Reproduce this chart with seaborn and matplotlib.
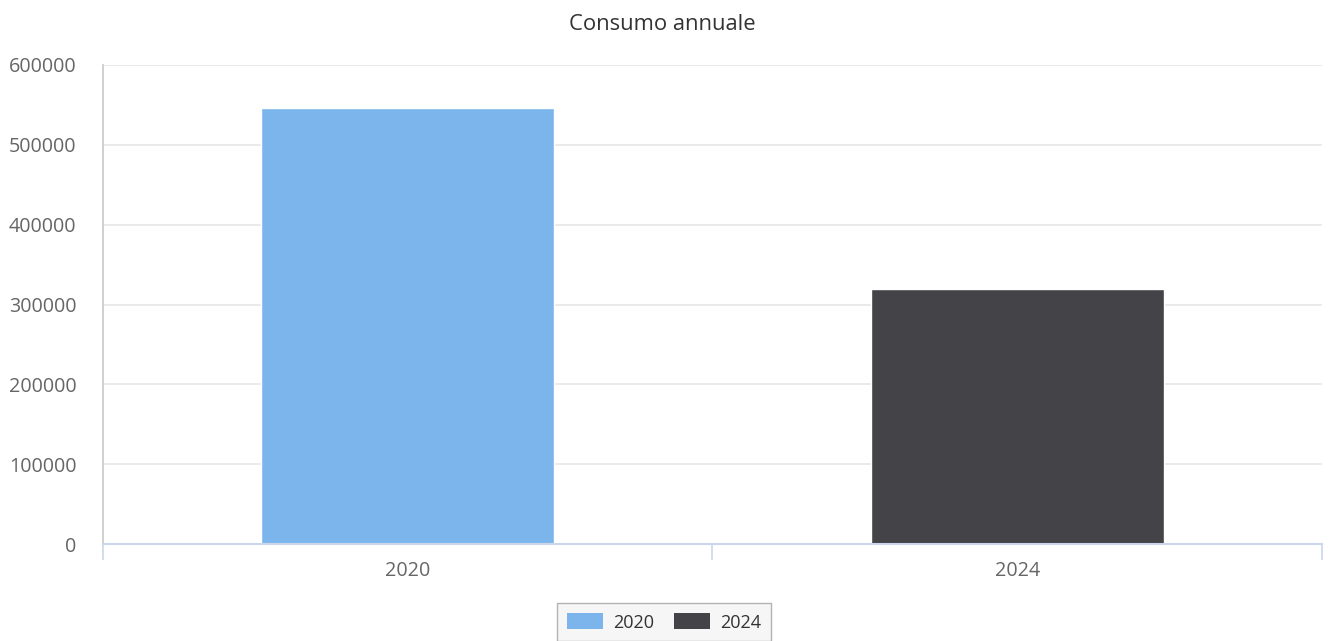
import matplotlib
matplotlib.use("Agg")
import matplotlib.pyplot as plt
import seaborn as sns
import pandas as pd
from matplotlib.patches import Patch

# Annual consumption per year
years = ["2020", "2024"]
consumption = [546000, 319000]
colors = ["#7cb5ec", "#434348"]
y_ticks = [0, 100000, 200000, 300000, 400000, 500000, 600000]

df = pd.DataFrame({"anno": years, "consumo": consumption})

sns.set_theme(style="white")
plt.rcParams["font.family"] = ["Open Sans", "DejaVu Sans"]

fig = plt.figure(figsize=(13.36, 6.41), dpi=100)
ax = fig.add_axes([0.0771, 0.1513, 0.9124, 0.7473])

sns.barplot(data=df, x="anno", y="consumo", hue="anno", palette=colors,
            dodge=False, width=0.48, saturation=1, legend=False, ax=ax,
            edgecolor="white", linewidth=1)

ax.set_ylim(0, 600000)
ax.set_xlim(-0.5, len(years) - 0.5)
ax.set_yticks(y_ticks)
ax.set_yticklabels([str(v) for v in y_ticks])
ax.yaxis.grid(True, color="#e6e6e6", linewidth=1.2)
ax.set_axisbelow(True)
ax.set_xlabel("")
ax.set_ylabel("")

for side in ["top", "right"]:
    ax.spines[side].set_visible(False)
ax.spines["left"].set_color("#c8c8c8")
ax.spines["left"].set_linewidth(1.2)
ax.spines["bottom"].set_color("#ccd6eb")
ax.spines["bottom"].set_linewidth(1.5)

ax.tick_params(axis="y", left=False, length=0, pad=19, labelsize=14.2,
               labelcolor="#666666")
ax.tick_params(axis="x", which="major", bottom=False, length=0, pad=12,
               labelsize=14.2, labelcolor="#666666")
ax.set_xticks([i - 0.5 for i in range(len(years) + 1)], minor=True)
ax.tick_params(axis="x", which="minor", bottom=True, length=11.5, width=1.2,
               color="#ccd6eb")

fig.suptitle("Consumo annuale", x=0.496, y=0.978, fontsize=15.8, color="#333333")

handles = [Patch(facecolor=c, edgecolor="none", label=y) for y, c in zip(years, colors)]
leg = fig.legend(handles=handles, loc="center", bbox_to_anchor=(0.497, 0.029),
                 ncol=2, frameon=True, fontsize=13, handlelength=2.0,
                 handleheight=1.0, columnspacing=1.1, handletextpad=0.55,
                 borderpad=0.55, fancybox=False)
leg.get_frame().set_edgecolor("#a0a0a0")
leg.get_frame().set_facecolor("#f4f4f4")
leg.get_frame().set_linewidth(1.0)
for t in leg.get_texts():
    t.set_color("#333333")

fig.savefig("out.png", dpi=100)
